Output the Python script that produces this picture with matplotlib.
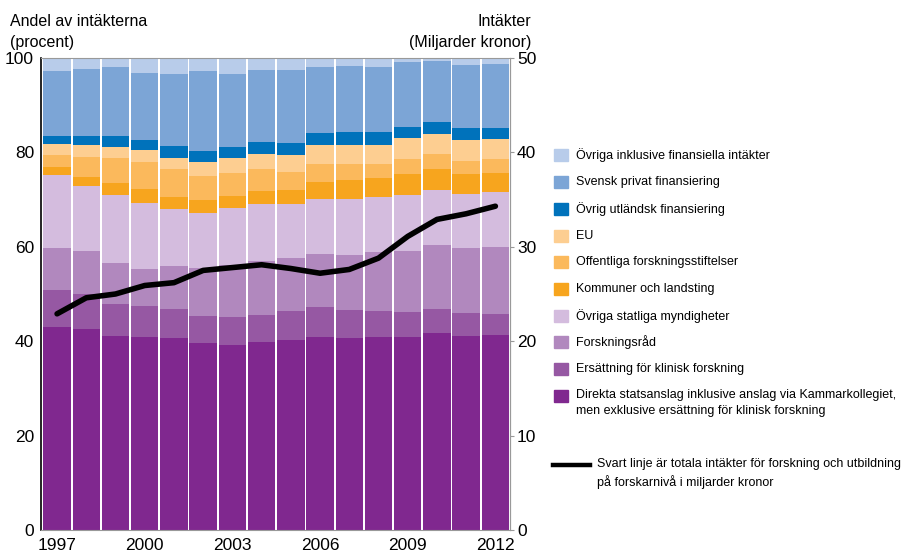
"""Intäkter för forskning och utbildning på forskarnivå, andel per finansieringskälla 1997-2012."""

import matplotlib
matplotlib.use("Agg")
import matplotlib.pyplot as plt
import matplotlib.patches as mpatches
from matplotlib.lines import Line2D
import numpy as np

plt.rcParams["font.family"] = ["Liberation Sans", "DejaVu Sans"]

years = [1997, 1998, 1999, 2000, 2001, 2002, 2003, 2004,
         2005, 2006, 2007, 2008, 2009, 2010, 2011, 2012]
tick_years = [1997, 2000, 2003, 2006, 2009, 2012]

# share of income per source (percent), bottom to top
direkta      = [43.0, 42.5, 41.0, 40.8, 40.6, 39.6, 39.3, 39.8, 40.2, 40.9, 40.6, 40.8, 40.8, 41.7, 41.1, 41.3]
ersattning   = [7.8, 7.4, 6.8, 6.6, 6.2, 5.7, 5.8, 5.7, 6.2, 6.3, 6.0, 5.6, 5.3, 5.1, 4.8, 4.4]
forskningsrad = [9.0, 9.2, 8.7, 7.9, 9.2, 10.2, 11.0, 11.4, 11.2, 11.2, 11.6, 12.5, 13.0, 13.6, 13.8, 14.2]
ovr_statliga = [15.4, 13.8, 14.5, 14.0, 12.0, 11.6, 12.1, 12.1, 11.4, 11.7, 11.9, 11.6, 11.9, 11.6, 11.5, 11.7]
kommuner     = [1.7, 1.9, 2.5, 2.9, 2.5, 2.8, 2.5, 2.8, 3.0, 3.6, 4.0, 4.1, 4.4, 4.4, 4.2, 4.0]
offentliga   = [2.5, 4.2, 5.3, 5.8, 5.9, 5.1, 4.9, 4.6, 3.8, 3.8, 3.4, 2.9, 3.2, 3.3, 2.8, 3.0]
eu           = [2.4, 2.5, 2.3, 2.5, 2.4, 3.0, 3.2, 3.3, 3.6, 4.0, 4.0, 4.0, 4.4, 4.2, 4.4, 4.2]
ovr_utland   = [1.7, 2.0, 2.4, 2.1, 2.5, 2.3, 2.3, 2.5, 2.6, 2.6, 2.8, 2.8, 2.4, 2.5, 2.6, 2.4]
svensk_privat = [13.8, 14.2, 14.6, 14.2, 15.3, 16.9, 15.5, 15.3, 15.5, 14.0, 14.0, 13.8, 13.8, 13.0, 13.3, 13.5]
ovriga       = [2.7, 2.3, 1.9, 3.2, 3.4, 2.8, 3.4, 2.5, 2.5, 1.9, 1.7, 1.9, 0.8, 0.6, 1.5, 1.3]

# total income, billion SEK (right axis)
total = [22.9, 24.6, 25.0, 25.9, 26.2, 27.5, 27.8, 28.1, 27.7, 27.2, 27.6, 28.8, 31.1, 32.9, 33.5, 34.3]

series = [
    ("Direkta statsanslag inklusive anslag via Kammarkollegiet,\nmen exklusive ersättning för klinisk forskning", direkta, "#80288f"),
    ("Ersättning för klinisk forskning", ersattning, "#9658a3"),
    ("Forskningsråd", forskningsrad, "#b188be"),
    ("Övriga statliga myndigheter", ovr_statliga, "#d4bcde"),
    ("Kommuner och landsting", kommuner, "#f7a51e"),
    ("Offentliga forskningsstiftelser", offentliga, "#fbb95c"),
    ("EU", eu, "#fdce91"),
    ("Övrig utländsk finansiering", ovr_utland, "#0072bb"),
    ("Svensk privat finansiering", svensk_privat, "#7ca5d6"),
    ("Övriga inklusive finansiella intäkter", ovriga, "#b8ccea"),
]

W, H = 906, 554
fig = plt.figure(figsize=(W / 100, H / 100), dpi=100)
ax = fig.add_axes([41 / W, 1 - 530 / H, (510 - 41) / W, (530 - 58) / H])

x = np.arange(len(years))
bottom = np.zeros(len(years))
for label, vals, color in series:
    vals = np.array(vals)
    ax.bar(x, vals, bottom=bottom, width=0.94, color=color, linewidth=0, zorder=2)
    bottom += vals

ax.set_xlim(-0.55, len(years) - 0.5)
ax.set_ylim(0, 100)
ax.set_yticks([0, 20, 40, 60, 80, 100])
# inner gridlines only; they show as dots in the gaps between bars
ax.set_yticks([20, 40, 60, 80], minor=True)
ax.grid(which="minor", axis="y", color="black", linewidth=1.5, zorder=0)
ax.set_axisbelow(True)
ax.set_xticks([years.index(y) for y in tick_years])
ax.set_xticklabels([str(y) for y in tick_years])
ax.tick_params(axis="x", length=0, pad=6, labelsize=12.5)
ax.tick_params(axis="y", which="both", length=0, pad=5, labelsize=12.5)
ax.spines["left"].set_color("black")
ax.spines["left"].set_linewidth(1.2)
for s in ("top", "right", "bottom"):
    ax.spines[s].set_color("#999999")
    ax.spines[s].set_linewidth(0.8)

ax2 = ax.twinx()
ax2.plot(x, total, color="black", linewidth=4, solid_capstyle="round", zorder=5)
ax2.set_ylim(0, 50)
ax2.set_yticks([0, 10, 20, 30, 40, 50])
ax2.tick_params(axis="y", length=3, pad=2, labelsize=12.5, color="#999999")
for s in ("top", "left", "bottom"):
    ax2.spines[s].set_visible(False)
ax2.spines["right"].set_color("#999999")
ax2.spines["right"].set_linewidth(0.8)

# axis titles
fig.text(10 / W, 1 - 21 / H, "Andel av intäkterna", fontsize=11.5, va="center", ha="left")
fig.text(10 / W, 1 - 43 / H, "(procent)", fontsize=11.5, va="center", ha="left")
fig.text(531 / W, 1 - 21 / H, "Intäkter", fontsize=11.5, va="center", ha="right")
fig.text(531 / W, 1 - 43 / H, "(Miljarder kronor)", fontsize=11.5, va="center", ha="right")

# legend, top entry first
legend_y = [155, 182, 209, 236, 262, 289, 316, 342, 369, 396]
for (label, vals, color), yc in zip(series[::-1], legend_y):
    fig.patches.append(mpatches.Rectangle((554 / W, 1 - (yc + 6) / H), 14 / W, 12 / H,
                                          transform=fig.transFigure, color=color))
    if "\n" in label:
        fig.text(576 / W, 1 - (yc - 7) / H, label, fontsize=9, va="top", ha="left",
                 linespacing=1.45)
    else:
        fig.text(576 / W, 1 - yc / H, label, fontsize=9, va="center", ha="left")

fig.lines.append(Line2D([553 / W, 590 / W], [1 - 465 / H, 1 - 465 / H],
                        transform=fig.transFigure, color="black", linewidth=3.2))
fig.text(597 / W, 1 - 458 / H,
         "Svart linje är totala intäkter för forskning och utbildning\npå forskarnivå i miljarder kronor",
         fontsize=9, va="top", ha="left", linespacing=1.45)

fig.savefig("out.png", dpi=100)
